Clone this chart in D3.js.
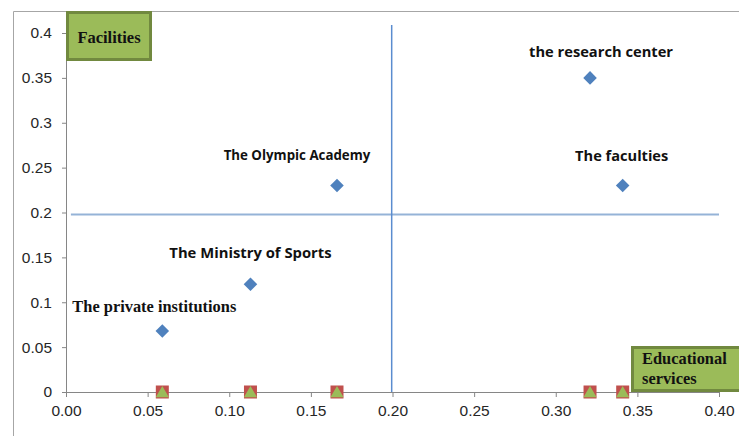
<!DOCTYPE html>
<html>
<head>
<meta charset="utf-8">
<script src="https://cdn.jsdelivr.net/npm/d3@7"></script>
<style>
  html, body { margin: 0; padding: 0; background: #fff; }
  svg { display: block; }
</style>
</head>
<body>
<svg id="chart" width="739" height="436"></svg>
<script>
// ---- Data ----
const institutions = ["The private institutions", "The Ministry of Sports", "The Olympic Academy", "the research center", "The faculties"];
const educationalServices = [0.059, 0.113, 0.166, 0.321, 0.341];
const facilities = [0.068, 0.12, 0.23, 0.35, 0.23];
const baselineValues = [0, 0, 0, 0, 0];
const xTicks = [0, 0.05, 0.10, 0.15, 0.20, 0.25, 0.30, 0.35, 0.40];
const yTicks = [0, 0.05, 0.1, 0.15, 0.2, 0.25, 0.3, 0.35, 0.4];
const vLine = [[0.1995, 0.409], [0.1995, 0]];
const hLine = [[0.003, 0.1978], [0.4, 0.1978]];
const quadrantTitles = ["Facilities", ["Educational", "services"]];

// ---- Layout ----
const svg = d3.select("#chart");
const x = d3.scaleLinear().domain([0, 0.4]).range([66, 719]);
const y = d3.scaleLinear().domain([0, 0.4]).range([392, 33]);

// outer chart border
svg.append("path").attr("d", "M13.5,436 L13.5,11.5 L739,11.5")
  .attr("fill", "none").attr("stroke", "#a6a6a6").attr("stroke-width", 1);

// axes
const yAxis = d3.axisLeft(y).tickValues(yTicks).tickSize(4).tickPadding(10)
  .tickFormat(d => d3.format("")(+d.toFixed(2)));
const xAxis = d3.axisBottom(x).tickValues(xTicks).tickSize(5).tickPadding(8)
  .tickFormat(d3.format(".2f"));

const gy = svg.append("g").attr("transform", `translate(${x(0)},0)`).call(yAxis);
const gx = svg.append("g").attr("transform", `translate(0,${y(0)})`).call(xAxis);
[gx, gy].forEach(g => {
  g.select(".domain").attr("stroke", "#868686");
  g.selectAll(".tick line").attr("stroke", "#868686");
  g.selectAll(".tick text").attr("fill", "#262626")
    .style("font-family", "'Liberation Sans', Arial, sans-serif").style("font-size", "15.5px");
});

// quadrant lines
const line = d3.line().x(d => x(d[0])).y(d => y(d[1]));
svg.append("path").attr("d", line(hLine)).attr("stroke", "#95b3d7").attr("stroke-width", 2).attr("fill", "none");
svg.append("path").attr("d", line(vLine)).attr("stroke", "#5a8ccf").attr("stroke-width", 1.5).attr("fill", "none");

// baseline markers: red squares with green triangles
const sq = 13;
svg.append("g").selectAll("rect").data(educationalServices).join("rect")
  .attr("x", d => x(d) - sq / 2).attr("y", (d, i) => y(baselineValues[i]) - sq / 2)
  .attr("width", sq).attr("height", sq).attr("fill", "#c0504d");
svg.append("g").selectAll("path").data(educationalServices).join("path")
  .attr("d", d3.symbol().type(d3.symbolTriangle).size(75))
  .attr("transform", (d, i) => `translate(${x(d)},${y(baselineValues[i]) + 1.5})`)
  .attr("fill", "#9bbb59");

// diamonds (square rotated 45°)
svg.append("g").selectAll("path").data(educationalServices).join("path")
  .attr("d", d3.symbol().type(d3.symbolSquare).size(92))
  .attr("transform", (d, i) => `translate(${x(d)},${y(facilities[i])}) rotate(45)`)
  .attr("fill", "#4f81bd");

// point labels
const labelOffsets = [[-8, -19], [0, -26], [-40, -26], [11, -21], [-1, -25]];
const labelFonts = ["'Liberation Serif', 'Times New Roman', serif", "'Open Sans', sans-serif", "'Open Sans', sans-serif", "'Open Sans', sans-serif", "'Open Sans', sans-serif"];
const labelSizes = ["16.4px", "14.8px", "13.3px", "14.7px", "14.6px"];
svg.append("g").selectAll("text").data(institutions).join("text")
  .attr("x", (d, i) => x(educationalServices[i]) + labelOffsets[i][0])
  .attr("y", (d, i) => y(facilities[i]) + labelOffsets[i][1])
  .attr("text-anchor", "middle")
  .style("font-family", (d, i) => labelFonts[i])
  .style("font-size", (d, i) => labelSizes[i])
  .style("font-weight", "bold")
  .attr("fill", "#111")
  .text(d => d);

// quadrant title boxes
const boxFont = "'Liberation Serif', 'Times New Roman', serif";
svg.append("rect").attr("x", 67.5).attr("y", 12.5).attr("width", 83).attr("height", 47)
  .attr("fill", "#9bbb59").attr("stroke", "#71893f").attr("stroke-width", 3);
svg.append("text").attr("x", 109).attr("y", 43).attr("text-anchor", "middle")
  .style("font-family", boxFont).style("font-size", "16.5px").style("font-weight", "bold")
  .attr("fill", "#111").text(quadrantTitles[0]);

svg.append("rect").attr("x", 632.5).attr("y", 347.5).attr("width", 120).attr("height", 43)
  .attr("fill", "#9bbb59").attr("stroke", "#71893f").attr("stroke-width", 3);
svg.append("text").attr("x", 642).attr("y", 364)
  .style("font-family", boxFont).style("font-size", "16.4px").style("font-weight", "bold")
  .attr("fill", "#111")
  .selectAll("tspan").data(quadrantTitles[1]).join("tspan")
  .attr("x", 642).attr("dy", (d, i) => i === 0 ? 0 : 20).text(d => d);
</script>
</body>
</html>
